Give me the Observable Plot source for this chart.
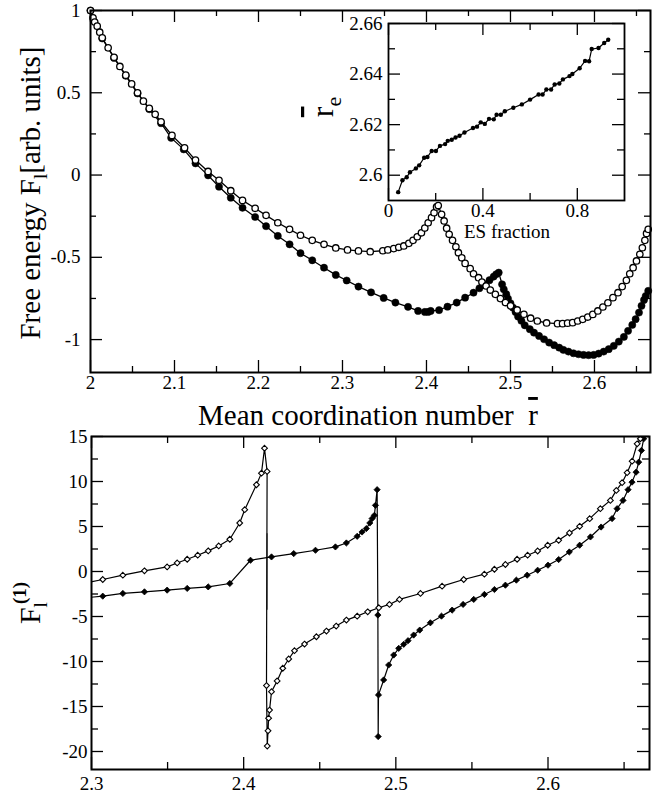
<!DOCTYPE html>
<html><head><meta charset="utf-8">
<script src="https://cdn.jsdelivr.net/npm/d3@7"></script>
<script src="https://cdn.jsdelivr.net/npm/@observablehq/plot@0.6"></script>
<style>
html,body{margin:0;padding:0;background:#fff;}
#wrap{position:relative;width:667px;height:798px;overflow:hidden;background:#fff;}
#wrap svg{position:absolute;left:0;top:0;}
</style></head><body><div id="wrap"></div>
<script>
// ---------- Top panel: free energy vs mean coordination number ----------
const openTopX = [2.000,2.003,2.005,2.008,2.011,2.014,2.021,2.028,2.035,2.042,2.049,2.056,2.063,2.070,2.077,2.084,2.097,2.112,2.125,2.140,2.153,2.167,2.181,2.196,2.209,2.223,2.237,2.250,2.264,2.278,2.292,2.306,2.319,2.333,2.348,2.354,2.361,2.367,2.373,2.379,2.384,2.389,2.394,2.398,2.402,2.406,2.409,2.412,2.414,2.418,2.421,2.424,2.427,2.431,2.435,2.438,2.442,2.446,2.452,2.456,2.462,2.466,2.471,2.476,2.482,2.488,2.494,2.500,2.508,2.516,2.524,2.532,2.543,2.556,2.562,2.568,2.574,2.580,2.586,2.592,2.598,2.604,2.610,2.616,2.622,2.628,2.633,2.638,2.642,2.646,2.650,2.654,2.657,2.660,2.662,2.664];
const openTopY = [1.000,0.955,0.930,0.905,0.868,0.834,0.773,0.716,0.660,0.607,0.554,0.500,0.449,0.405,0.369,0.324,0.241,0.166,0.091,0.022,-0.032,-0.095,-0.154,-0.202,-0.245,-0.290,-0.330,-0.366,-0.397,-0.421,-0.443,-0.455,-0.461,-0.466,-0.460,-0.455,-0.447,-0.439,-0.431,-0.415,-0.397,-0.375,-0.351,-0.322,-0.290,-0.259,-0.229,-0.194,-0.185,-0.239,-0.279,-0.323,-0.360,-0.397,-0.436,-0.472,-0.503,-0.537,-0.569,-0.600,-0.624,-0.650,-0.674,-0.699,-0.725,-0.751,-0.775,-0.795,-0.820,-0.846,-0.870,-0.887,-0.899,-0.903,-0.903,-0.900,-0.897,-0.887,-0.877,-0.863,-0.847,-0.826,-0.802,-0.776,-0.745,-0.715,-0.678,-0.640,-0.600,-0.563,-0.522,-0.482,-0.442,-0.397,-0.355,-0.330];
const filledTopX = [2.000,2.014,2.028,2.042,2.056,2.070,2.084,2.096,2.111,2.125,2.140,2.153,2.167,2.181,2.196,2.209,2.223,2.237,2.250,2.264,2.278,2.292,2.305,2.319,2.334,2.349,2.363,2.378,2.390,2.398,2.402,2.405,2.415,2.425,2.436,2.446,2.456,2.463,2.469,2.475,2.480,2.483,2.486,2.490,2.492,2.495,2.497,2.500,2.503,2.506,2.509,2.513,2.517,2.523,2.528,2.534,2.540,2.546,2.552,2.558,2.563,2.569,2.575,2.581,2.587,2.593,2.599,2.605,2.611,2.617,2.623,2.629,2.635,2.640,2.645,2.649,2.653,2.656,2.659,2.661,2.664];
const filledTopY = [1.000,0.830,0.712,0.603,0.496,0.400,0.315,0.226,0.156,0.071,-0.002,-0.071,-0.138,-0.199,-0.255,-0.311,-0.370,-0.421,-0.475,-0.518,-0.563,-0.607,-0.641,-0.678,-0.713,-0.747,-0.775,-0.801,-0.826,-0.832,-0.832,-0.826,-0.821,-0.800,-0.775,-0.745,-0.715,-0.688,-0.664,-0.639,-0.617,-0.603,-0.593,-0.664,-0.694,-0.724,-0.751,-0.779,-0.806,-0.832,-0.860,-0.886,-0.913,-0.937,-0.958,-0.978,-0.998,-1.018,-1.034,-1.049,-1.063,-1.073,-1.083,-1.089,-1.093,-1.095,-1.093,-1.085,-1.073,-1.058,-1.038,-1.012,-0.984,-0.947,-0.911,-0.876,-0.836,-0.795,-0.759,-0.735,-0.704];
const topXMajor = [2, 2.1, 2.2, 2.3, 2.4, 2.5, 2.6];
const topXMinor = [2.05, 2.15, 2.25, 2.35, 2.45, 2.55, 2.65];
const topYMajor = [-1, -0.5, 0, 0.5, 1];
const topYMinor = [-0.75, -0.25, 0.25, 0.75];

// ---------- Inset: r_e vs ES fraction ----------
const insetX = [0.041,0.059,0.077,0.091,0.116,0.130,0.151,0.165,0.183,0.201,0.218,0.240,0.251,0.268,0.284,0.301,0.322,0.358,0.375,0.391,0.408,0.426,0.446,0.458,0.476,0.493,0.529,0.565,0.600,0.636,0.653,0.669,0.689,0.704,0.724,0.739,0.767,0.779,0.810,0.833,0.850,0.861,0.890,0.914,0.931];
const insetY = [2.5933,2.5980,2.5992,2.6012,2.6027,2.6039,2.6069,2.6072,2.6096,2.6096,2.6116,2.6123,2.6136,2.6140,2.6149,2.6156,2.6169,2.6187,2.6192,2.6209,2.6203,2.6223,2.6221,2.6239,2.6239,2.6253,2.6267,2.6280,2.6299,2.6319,2.6319,2.6339,2.6339,2.6359,2.6363,2.6379,2.6392,2.6400,2.6423,2.6452,2.6451,2.6499,2.6503,2.6523,2.6536];
const insetXMajor = [0, 0.4, 0.8];
const insetXMinor = [0.2, 0.6];
const insetYMajor = [2.6, 2.62, 2.64, 2.66];
const insetYMinor = [2.61, 2.63, 2.65];

// ---------- Bottom panel: first derivative F_l^(1) ----------
const openBotX = [2.294,2.3074,2.3206,2.3348,2.3497,2.3563,2.3629,2.3698,2.3767,2.3836,2.3909,2.3974,2.4007,2.4084,2.4117,2.4137,2.4154,2.4150,2.4155,2.4160,2.4164,2.4170,2.4183,2.4220,2.4257,2.4296,2.4334,2.4400,2.4478,2.4544,2.4608,2.4675,2.4746,2.4815,2.4888,2.4958,2.5024,2.5162,2.5304,2.5446,2.5582,2.5648,2.5720,2.5797,2.5866,2.5932,2.5998,2.6070,2.6141,2.6208,2.6274,2.6344,2.6410,2.6449,2.6487,2.6520,2.6553,2.6586,2.6607,2.6630];
const openBotY = [-1.35,-0.89,-0.41,0.07,0.51,0.95,1.36,1.81,2.29,2.84,3.58,5.39,6.87,9.64,10.93,13.70,11.12,-12.68,-19.4,-17.7,-16.3,-15.4,-13.35,-12.16,-10.75,-9.72,-8.80,-8.06,-7.25,-6.62,-6.06,-5.40,-4.96,-4.48,-4.03,-3.66,-3.10,-2.44,-1.63,-0.89,-0.30,0.25,0.78,1.36,1.81,2.28,2.92,3.47,4.28,5.02,5.87,6.98,7.90,9.01,9.87,10.98,12.26,14.19,14.75,16.0];
const filledBotX = [2.294,2.3074,2.3206,2.3348,2.3497,2.3629,2.3767,2.3909,2.4045,2.4183,2.4329,2.4472,2.4603,2.4675,2.4746,2.4778,2.4806,2.4829,2.4844,2.4859,2.4866,2.4877,2.4882,2.4884,2.4886,2.4920,2.4953,2.4986,2.5019,2.5052,2.5080,2.5117,2.5157,2.5227,2.5300,2.5370,2.5442,2.5512,2.5582,2.5648,2.5720,2.5792,2.5863,2.5932,2.6000,2.6070,2.6140,2.6208,2.6279,2.6349,2.6421,2.6454,2.6493,2.6526,2.6552,2.6579,2.6596,2.6614,2.6629,2.6650];
const filledBotY = [-2.95,-2.74,-2.44,-2.26,-2.07,-1.88,-1.71,-1.33,1.25,1.62,1.99,2.36,2.73,3.17,3.91,4.39,4.77,5.39,5.88,6.24,7.35,9.09,-4.84,-18.34,-13.71,-12.05,-10.39,-9.28,-8.54,-8.09,-7.69,-7.06,-6.51,-5.70,-4.96,-4.29,-3.66,-3.10,-2.55,-2.00,-1.52,-0.96,-0.41,0.14,0.70,1.33,2.17,2.92,3.84,4.94,5.88,6.98,7.90,9.09,9.93,11.04,12.15,13.45,14.75,16.5];
const transitionX = [2.4154];
const transitionTop = [4.2];
const transitionBottom = [-4.3];
const botXMajor = [2.3, 2.4, 2.5, 2.6];
const botXMinor = [2.35, 2.45, 2.55, 2.65];
const botYMajor = [-20, -15, -10, -5, 0, 5, 10, 15];
const botYMinor = [-17.5, -12.5, -7.5, -2.5, 2.5, 7.5, 12.5];

// ---------- helpers ----------
const W = 667, H = 798;
const FONT = "'Liberation Serif','Times New Roman',serif";
const fmt = d => String(d);
const zip = (xs, ys) => xs.map((x, i) => ({x, y: ys[i]}));

function boxTicks(fw, fh, xMajor, xMinor, yMajor, yMinor, maj, min) {
  const o = {stroke: "black", strokeWidth: 1.3};
  const m = [];
  for (const [arr, len] of [[xMajor, maj], [xMinor, min]]) {
    m.push(Plot.ruleX(arr, {...o, x: d => d, insetTop: fh - len}));
    m.push(Plot.ruleX(arr, {...o, x: d => d, insetBottom: fh - len}));
  }
  for (const [arr, len] of [[yMajor, maj], [yMinor, min]]) {
    m.push(Plot.ruleY(arr, {...o, y: d => d, insetRight: fw - len}));
    m.push(Plot.ruleY(arr, {...o, y: d => d, insetLeft: fw - len}));
  }
  return m;
}

function addText(svg, x, y, rotate, anchor, parts) {
  const t = d3.select(svg).append("text")
    .attr("transform", `translate(${x},${y}) rotate(${rotate})`)
    .attr("text-anchor", anchor)
    .attr("fill", "black")
    .style("white-space", "pre");
  for (const p of parts) {
    const s = t.append("tspan").text(p.text).attr("font-size", p.size);
    if (p.dy) s.attr("dy", p.dy);
    if (p.dx) s.attr("dx", p.dx);
    if (p.weight) s.attr("font-weight", p.weight);
    if (p.deco) s.style("text-decoration", p.deco);
  }
}

const baseStyle = {fontSize: "19px", color: "black", overflow: "visible"};
const axisFont = {fontSize: 19};
const wrap = document.getElementById("wrap");

// ---------- top panel ----------
const topData1 = zip(openTopX, openTopY);
const topData2 = zip(filledTopX, filledTopY);
const topPlot = Plot.plot({
  width: W, height: H,
  marginLeft: 90, marginRight: 17, marginTop: 10, marginBottom: H - 372,
  x: {domain: [2, 2.6667], label: null},
  y: {domain: [-1.2, 1], label: null},
  style: {...baseStyle, background: "white"},
  marks: [
    Plot.line(topData2, {x: "x", y: "y", stroke: "black", strokeWidth: 1.3}),
    Plot.dot(topData2, {x: "x", y: "y", r: 3.6, fill: "black", stroke: "black", strokeWidth: 0.5}),
    Plot.line(topData1, {x: "x", y: "y", stroke: "black", strokeWidth: 1.3}),
    Plot.dot(topData1, {x: "x", y: "y", r: 3.2, fill: "white", stroke: "black", strokeWidth: 1.3}),
    ...boxTicks(560, 362, topXMajor, topXMinor, topYMajor, topYMinor, 12, 6),
    Plot.axisX({...axisFont, ticks: topXMajor, tickSize: 0, tickPadding: 3, tickFormat: fmt, label: null}),
    Plot.axisY({...axisFont, ticks: topYMajor, tickSize: 0, tickPadding: 10, tickFormat: fmt, label: null}),
    Plot.frame({stroke: "black", strokeWidth: 2})
  ]
});
wrap.appendChild(topPlot);
addText(topPlot, 198, 425, 0, "start", [
  {text: "Mean coordination number  ", size: 29},
  {text: "r", size: 29, deco: "overline"}
]);
addText(topPlot, 40, 193, -90, "middle", [
  {text: "Free energy F", size: 29},
  {text: "l", size: 19, dy: 7},
  {text: "[arb. units]", size: 29, dy: -7}
]);

// ---------- inset ----------
const insetData = zip(insetX, insetY);
const insetPlot = Plot.plot({
  width: W, height: H,
  marginLeft: 388, marginRight: 43, marginTop: 23, marginBottom: H - 200,
  x: {domain: [0, 1], label: null},
  y: {domain: [2.59, 2.66], label: null},
  style: {...baseStyle, background: "transparent"},
  marks: [
    Plot.line(insetData, {x: "x", y: "y", stroke: "black", strokeWidth: 1.2}),
    Plot.dot(insetData, {x: "x", y: "y", r: 2.2, fill: "black"}),
    ...boxTicks(236, 177, insetXMajor, insetXMinor, insetYMajor, insetYMinor, 12, 7),
    Plot.axisX({...axisFont, ticks: insetXMajor, tickSize: 0, tickPadding: 3, tickFormat: fmt, label: null}),
    Plot.axisY({...axisFont, ticks: insetYMajor, tickSize: 0, tickPadding: 6, tickFormat: fmt, label: null}),
    Plot.frame({stroke: "black", strokeWidth: 1.8})
  ]
});
wrap.appendChild(insetPlot);
addText(insetPlot, 507, 238, 0, "middle", [{text: "ES fraction", size: 19}]);
addText(insetPlot, 333, 107, -90, "middle", [
  {text: "r", size: 32, deco: "overline"},
  {text: "e", size: 22, dy: 8}
]);

// ---------- bottom panel ----------
const botData1 = zip(openBotX, openBotY);
const botData2 = zip(filledBotX, filledBotY);
const ruleData = transitionX.map((x, i) => ({x, y1: transitionTop[i], y2: transitionBottom[i]}));
const botPlot = Plot.plot({
  width: W, height: H,
  marginLeft: 91, marginRight: 18, marginTop: 436, marginBottom: 29,
  x: {domain: [2.3, 2.6667], label: null},
  y: {domain: [-22, 15], label: null},
  style: {...baseStyle, background: "transparent"},
  marks: [
    Plot.ruleX(ruleData, {x: "x", y1: "y1", y2: "y2", stroke: "#666", strokeWidth: 1.4}),
    Plot.line(botData2, {x: "x", y: "y", stroke: "black", strokeWidth: 1.2, clip: true}),
    Plot.dot(botData2, {x: "x", y: "y", symbol: "diamond2", r: 2.8, fill: "black", stroke: "black", strokeWidth: 0.8, clip: true}),
    Plot.line(botData1, {x: "x", y: "y", stroke: "black", strokeWidth: 1.2, clip: true}),
    Plot.dot(botData1, {x: "x", y: "y", symbol: "diamond2", r: 2.6, fill: "white", stroke: "black", strokeWidth: 1.1, clip: true}),
    ...boxTicks(558, 333, botXMajor, botXMinor, botYMajor, botYMinor, 12, 7),
    Plot.axisX({...axisFont, ticks: botXMajor, tickSize: 0, tickPadding: 7, tickFormat: fmt, label: null}),
    Plot.axisY({...axisFont, ticks: botYMajor, tickSize: 0, tickPadding: 4, tickFormat: fmt, label: null}),
    Plot.frame({stroke: "black", strokeWidth: 2})
  ]
});
wrap.appendChild(botPlot);
addText(botPlot, 40, 603, -90, "middle", [
  {text: "F", size: 30},
  {text: "l", size: 19, dy: 7},
  {text: "(1)", size: 19, dy: -21, dx: -2, weight: "bold"}
]);

// force a Times-like serif on every text, overriding Plot's defaults
d3.selectAll("#wrap svg").style("font-family", FONT, "important");
d3.selectAll("#wrap svg g").style("font-family", FONT, "important");
d3.selectAll("#wrap svg text").style("font-family", FONT, "important").style("font-variant", "normal");
d3.selectAll("#wrap svg tspan").style("font-family", FONT, "important");
</script></body></html>
